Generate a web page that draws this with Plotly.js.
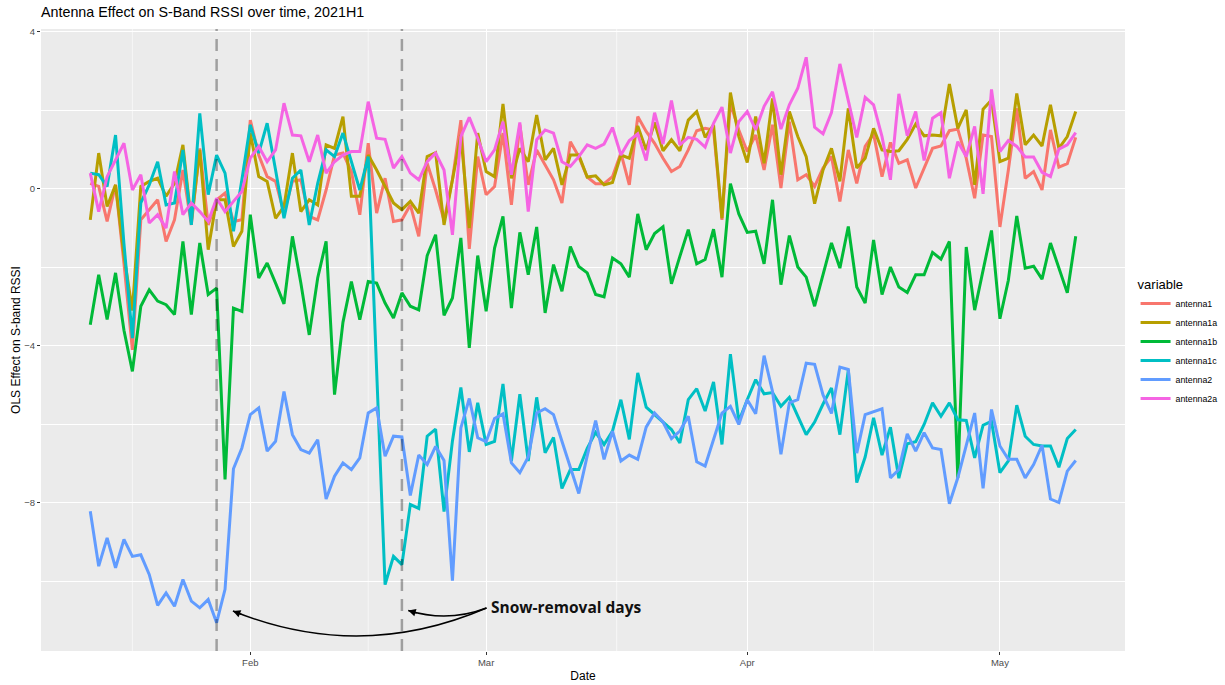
<!DOCTYPE html>
<html>
<head>
<meta charset="utf-8">
<script src="https://cdn.plot.ly/plotly-3.0.1.min.js"></script>
<style>html,body{margin:0;padding:0;background:#fff;}#chart{width:1225px;height:685px;}</style>
</head>
<body>
<div id="chart"></div>
<script>
// ---- Data (daily, 2021-01-13 .. 2021-05-10) ----
const startDate = '2021-01-13';

const antenna1 = [
  0.14, 0.06, -0.83, 0.10, -1.9, -4.1, -0.79, -0.53, -0.28, -1.34, -0.79, 0.48, -0.92, 1.03, -0.92, -0.28, -0.11, -0.83, -0.79,
  1.75, 0.86, 0.31, 0.19, -0.62, 0.19, 0.23, -0.70, -0.79, -0.03, 0.86, 0.91, 0.44, -0.66, 1.16, -0.62, 0.27, -0.83, -0.79, -0.41, -1.21, 0.65, -0.03, -0.8, 0.23, 1.75, -1.53, 0.82,
  -0.15, 0.06, 1.42, -0.41, 1.63, 0.10, 0.99, 0.61, 0.23, -0.36, 1.2, 0.82, 0.3, 0.13, 0.13, 0.31, 0.91, 0.10, 1.84, 1.46, 1.16, 0.78, 0.44, 0.57, 0.99, 1.48, 1.54, 1.5, -0.79, 2.18, 1.5,
  0.95, 1.37, 0.48, 1.63, 0.02, 1.71, 0.23, 0.36, 0.06, 0.53, 0.82, -0.32, 0.99, 0.14, 1.08, 1.4, 0.31, 1.18, 0.65, 0.74, 0.02, 0.53, 1.03, 1.09, 1.48, 1.52, 0.78, -0.24, 1.37, 1.33,
  -0.97, 0.48, 2.05, 0.27, 0.44, -0.03, 1.5, 0.55, 0.64, 1.31
];
const antenna1a = [
  -0.79, 0.91, -0.45, 0.10, -1.7, -3.1, 0.06, 0.19, 0.27, -0.19, 0.14, 1.12, -0.83, 0.99, -1.55, -0.28, -0.28, -1.47, -1.08,
  1.42, 0.31, 0.19, -0.75, -0.45, 0.91, -0.58, -0.28, -0.41, 1.12, 1.03, 1.84, -0.19, -0.19, 0.86, 0.48, 0.06, -0.36, -0.53, -0.32, -0.62, 0.82, 0.92, -0.92, 0.23, 1.37, -1.0, 1.42,
  0.44, 0.31, 2.16, 0.27, 1.03, 0.69, 1.88, 0.74, 1.03, 0.10, 0.86, 0.86, 0.3, 0.33, 0.10, 0.16, 0.86, 0.78, 1.6, 0.99, 1.69, 0.97, 1.25, 0.97, 1.75, 1.97, 1.31, 1.63, -0.75, 2.45, 1.33,
  0.67, 1.84, 0.65, 2.3, 0.36, 1.97, 1.33, 0.82, -0.38, 0.48, 1.03, 0.19, 2.05, 0.53, 0.78, 1.54, 0.99, 0.95, 0.97, 1.26, 1.65, 1.35, 1.37, 1.35, 2.67, 1.54, 2.01, 0.10, 2.03, 2.26,
  0.69, 0.78, 2.43, 1.12, 1.37, 1.09, 2.14, 1.03, 1.33, 1.97
];
const antenna1b = [
  -3.46, -2.19, -3.33, -2.14, -3.6, -4.65, -2.99, -2.57, -2.86, -2.95, -3.2, -1.34, -3.2, -1.38, -2.69, -2.53, -7.4, -3.04, -3.12,
  -0.66, -2.27, -1.89, -2.4, -2.93, -1.21, -2.4, -3.72, -2.27, -1.34, -5.24, -3.4, -2.36, -3.33, -2.36, -2.4, -2.91, -3.29, -2.65, -2.99, -3.08, -1.7, -1.17, -3.22, -2.78, -1.25, -4.05, -1.7,
  -3.12, -1.51, -0.7, -3.04, -1.11, -2.19, -0.97, -3.16, -1.93, -2.61, -1.47, -1.98, -2.14, -2.69, -2.75, -1.76, -1.91, -2.25, -0.64, -1.55, -1.14, -0.97, -2.42, -1.72, -1.04, -1.91, -1.8, -1.03, -2.25, 0.13, -0.64,
  -1.11, -1.08, -1.91, -0.28, -2.44, -1.19, -1.99, -2.25, -2.99, -2.19, -1.38, -2.02, -0.96, -2.5, -2.91, -1.3, -2.69, -1.99, -2.5, -2.64, -2.19, -2.19, -1.62, -1.79, -1.34, -7.36, -1.48, -3.09, -2.1, -1.06,
  -3.31, -2.33, -0.69, -2.02, -1.97, -2.3, -1.38, -2.02, -2.65, -1.21
];
const antenna1c = [
  0.40, 0.36, 0.06, 1.37, -1.4, -3.8, -0.36, 0.10, 0.69, -0.41, -0.36, 0.99, -0.92, 1.92, -0.15, 0.86, 0.40, -1.08, 0.23,
  1.63, 0.91, 1.67, 0.48, -0.75, 0.27, 0.48, -0.92, 0.14, 0.99, 0.82, 1.42, 0.69, -0.03, 0.82, -4.6, -10.08, -9.36, -9.57, -8.04, -8.14, -6.30, -6.12, -8.22, -6.42, -5.06, -6.70, -5.45,
  -6.51, -6.43, -4.97, -6.93, -5.23, -6.93, -5.31, -6.72, -6.33, -7.63, -7.15, -7.15, -6.61, -6.2, -6.51, -6.17, -5.37, -6.38, -4.69, -5.56, -5.75, -5.92, -6.13, -6.47, -5.37, -5.09, -5.66, -4.92, -6.51, -4.21, -5.92,
  -5.37, -4.86, -5.22, -5.19, -5.54, -5.31, -5.79, -6.26, -5.94, -5.48, -5.07, -6.26, -4.61, -7.48, -6.83, -5.83, -6.78, -6.07, -7.37, -6.49, -6.44, -6.0, -5.45, -5.79, -5.45, -5.88, -5.9, -6.85, -6.02, -5.92,
  -7.23, -6.93, -5.51, -6.3, -6.51, -6.55, -6.55, -7.09, -6.36, -6.13
];
const antenna2 = [
  -8.21, -9.61, -8.89, -9.65, -8.93, -9.36, -9.32, -9.82, -10.61, -10.29, -10.63, -9.95, -10.5, -10.67, -10.46, -11.05, -10.2, -7.13, -6.6,
  -5.75, -5.58, -6.68, -6.43, -5.16, -6.26, -6.64, -6.73, -6.39, -7.9, -7.32, -6.98, -7.15, -6.85, -5.71, -5.58, -6.81, -6.30, -6.32, -7.81, -6.78, -7.02, -6.56, -6.92, -9.98, -6.09, -5.34, -6.34,
  -6.44, -5.85, -5.73, -6.98, -7.23, -6.83, -5.71, -5.60, -5.75, -6.43, -7.1, -7.76, -6.8, -5.9, -6.89, -6.17, -6.93, -6.78, -6.89, -6.07, -5.71, -5.94, -6.36, -6.17, -5.79, -6.95, -7.06, -6.38, -5.71, -5.54, -6.0,
  -5.37, -5.73, -4.25, -5.16, -6.76, -5.45, -5.37, -4.44, -4.47, -5.25, -5.72, -4.54, -4.60, -6.73, -5.75, -5.67, -5.6, -7.36, -7.15, -6.24, -6.68, -6.21, -6.6, -6.64, -8.02, -7.36, -6.55, -5.71, -7.63, -5.62,
  -6.55, -6.89, -6.89, -7.36, -7.02, -6.53, -7.9, -7.99, -7.19, -6.92
];
const antenna2a = [
  0.40, -0.58, 0.31, 0.74, 1.16, -0.03, 0.36, -0.87, -0.66, -1.0, 0.44, -0.66, -0.36, -0.58, -0.83, -0.24, -0.58, -0.32, -0.07,
  0.78, 1.08, 0.69, 0.99, 2.18, 1.37, 1.35, 0.69, 1.37, 0.40, 0.69, 0.86, 0.95, 0.95, 2.22, 1.29, 1.26, 0.53, 0.82, 0.40, 0.23, 0.69, 0.91, 0.48, -1.17, 1.33, 1.82, 1.29,
  0.69, 0.99, 1.71, 0.36, 1.69, -0.58, 1.25, 1.5, 1.42, 0.69, 0.57, 0.82, 1.12, 1.03, 1.14, 1.56, 0.86, 1.23, 1.4, 0.72, 1.94, 1.14, 2.25, 1.12, 1.31, 1.26, 1.06, 1.67, 2.08, 0.91, 1.71,
  1.97, 1.5, 2.1, 2.47, 1.52, 2.14, 2.56, 3.35, 1.57, 1.4, 1.94, 3.18, 2.27, 1.31, 2.33, 2.14, 1.33, 0.23, 2.42, 1.35, 1.97, 0.72, 1.8, 1.94, 0.27, 1.2, 0.82, 1.59, -0.13, 2.53,
  0.95, 1.23, 1.08, 0.81, 0.81, 0.42, 0.31, 1.01, 1.12, 1.43
];

const seriesNames = ['antenna1', 'antenna1a', 'antenna1b', 'antenna1c', 'antenna2', 'antenna2a'];
const seriesColors = ['#F8766D', '#B79F00', '#00BA38', '#00BFC4', '#619CFF', '#F564E3'];
const seriesValues = [antenna1, antenna1a, antenna1b, antenna1c, antenna2, antenna2a];

const snowDays = ['2021-01-28', '2021-02-19'];
const majorTickVals = ['2021-02-01', '2021-03-01', '2021-04-01', '2021-05-01'];
const majorTickText = ['Feb', 'Mar', 'Apr', 'May'];
const minorGridDates = ['2021-01-18', '2021-02-15', '2021-03-16 12:00', '2021-04-16'];

// consecutive daily dates
function buildDates(start, n) {
  const p = start.split('-').map(Number);
  const t0 = Date.UTC(p[0], p[1] - 1, p[2]);
  const out = [];
  for (let i = 0; i < n; i++) out.push(new Date(t0 + i * 86400000).toISOString().slice(0, 10));
  return out;
}
const dates = buildDates(startDate, antenna1.length);

const traces = seriesNames.map((name, i) => ({
  type: 'scatter', mode: 'lines', name: name,
  x: dates, y: seriesValues[i],
  line: {color: seriesColors[i], width: 3}
}));

const shapes = [];
minorGridDates.forEach(d => shapes.push({
  type: 'line', xref: 'x', yref: 'paper', x0: d, x1: d, y0: 0, y1: 1,
  line: {color: '#FFFFFF', width: 0.6}, layer: 'below'
}));
snowDays.forEach(d => shapes.push({
  type: 'line', xref: 'x', yref: 'paper', x0: d, x1: d, y0: 0, y1: 1,
  line: {color: 'rgba(0,0,0,0.32)', width: 2.5, dash: '12px,8px'}, layer: 'above'
}));
// curved annotation arrows (quadratic curves from label to the two snow days)
shapes.push({
  type: 'path', xref: 'x', yref: 'y', layer: 'above',
  path: 'M2021-03-01_01:00,-10.675 Q2021-02-14,-12.06 2021-01-29_22:30,-10.75',
  line: {color: '#000000', width: 1.5}
});
shapes.push({
  type: 'path', xref: 'x', yref: 'y', layer: 'above',
  path: 'M2021-03-01_01:00,-10.675 Q2021-02-24_11:00,-11.05 2021-02-19_18:00,-10.74',
  line: {color: '#000000', width: 1.5}
});

const annotations = [
  {x: '2021-03-01 08:00', y: -10.64, xref: 'x', yref: 'y', text: '<b>Snow-removal days</b>',
   showarrow: false, xanchor: 'left', yanchor: 'middle',
   font: {family: '"Open Sans", Lato, sans-serif', size: 15.5, color: '#111111'}},
  {x: '2021-01-29 22:30', y: -10.75, xref: 'x', yref: 'y', text: '', showarrow: true,
   ax: 10, ay: 4, arrowhead: 2, arrowsize: 1, arrowwidth: 1.5, arrowcolor: '#000000', standoff: 0},
  {x: '2021-02-19 18:00', y: -10.74, xref: 'x', yref: 'y', text: '', showarrow: true,
   ax: 10, ay: 3, arrowhead: 2, arrowsize: 1, arrowwidth: 1.5, arrowcolor: '#000000', standoff: 0}
];

const fontFam = '"Liberation Sans", Arial, Helvetica, sans-serif';

const layout = {
  width: 1225, height: 685,
  margin: {l: 41, r: 100, t: 29, b: 34},
  paper_bgcolor: '#FFFFFF',
  plot_bgcolor: '#EBEBEB',
  font: {family: fontFam, color: '#000000'},
  title: {text: 'Antenna Effect on S-Band RSSI over time, 2021H1',
          x: 0, xref: 'paper', xanchor: 'left', y: 0.982, yref: 'container', yanchor: 'middle',
          font: {family: fontFam, size: 14.3, color: '#000000'}},
  xaxis: {
    type: 'date',
    range: ['2021-01-07 03:36', '2021-05-15 20:24'],
    tickmode: 'array', tickvals: majorTickVals, ticktext: majorTickText,
    showgrid: true, gridcolor: '#FFFFFF', gridwidth: 1.1,
    zeroline: false, showline: false,
    ticks: 'outside', ticklen: 3, tickwidth: 1, tickcolor: '#333333',
    tickfont: {family: fontFam, size: 9.5, color: '#4D4D4D'},
    title: {text: 'Date', font: {family: fontFam, size: 12, color: '#000000'}, standoff: 4}
  },
  yaxis: {
    range: [-11.77, 4.07],
    tickmode: 'linear', tick0: 0, dtick: 4,
    showgrid: true, gridcolor: '#FFFFFF', gridwidth: 1.1,
    minor: {dtick: 2, showgrid: true, gridcolor: '#FFFFFF', gridwidth: 0.6},
    zeroline: false, showline: false,
    ticks: 'outside', ticklen: 3, tickwidth: 1, tickcolor: '#333333',
    tickfont: {family: fontFam, size: 9.5, color: '#4D4D4D'},
    title: {text: 'OLS Effect on S-band RSSI', font: {family: fontFam, size: 12, color: '#000000'}, standoff: 1}
  },
  showlegend: true,
  legend: {
    x: 0.927, xref: 'container', xanchor: 'left', y: 0.5, yref: 'container', yanchor: 'middle',
    bgcolor: 'rgba(0,0,0,0)', itemwidth: 30,
    title: {text: 'variable', font: {family: fontFam, size: 13, color: '#000000'}},
    font: {family: fontFam, size: 8.8, color: '#000000'}
  },
  shapes: shapes,
  annotations: annotations
};

Plotly.newPlot('chart', traces, layout, {displayModeBar: false, responsive: false});
</script>
</body>
</html>
